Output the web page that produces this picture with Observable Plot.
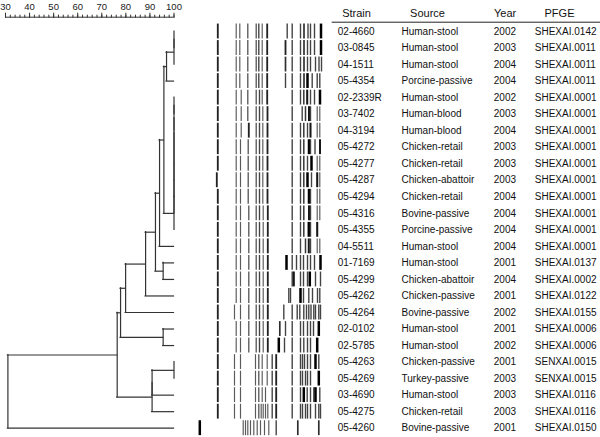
<!DOCTYPE html>
<html><head><meta charset="utf-8">
<script src="https://cdn.jsdelivr.net/npm/d3@7"></script>
<script src="https://cdn.jsdelivr.net/npm/@observablehq/plot@0.6"></script>
<style>
html,body{margin:0;padding:0;background:#fff;}
#chart{position:relative;width:600px;height:437px;overflow:hidden;background:#fff;}
#chart svg{position:absolute;top:0;}
</style></head><body><div id="chart"></div>
<script>
// ---- table data ----
const strains = ["02-4660","03-0845","04-1511","05-4354","02-2339R","03-7402","04-3194","05-4272","05-4277","05-4287","05-4294","05-4316","05-4355","04-5511","01-7169","05-4299","05-4262","05-4264","02-0102","02-5785","05-4263","05-4269","03-4690","05-4275","05-4260"];
const sources = ["Human-stool","Human-stool","Human-stool","Porcine-passive","Human-stool","Human-blood","Human-blood","Chicken-retail","Chicken-retail","Chicken-abattoir","Chicken-retail","Bovine-passive","Porcine-passive","Human-stool","Human-stool","Chicken-abattoir","Chicken-passive","Bovine-passive","Human-stool","Human-stool","Chicken-passive","Turkey-passive","Human-stool","Chicken-retail","Bovine-passive"];
const years = [2002,2003,2004,2004,2002,2003,2004,2003,2003,2003,2004,2004,2004,2004,2001,2004,2001,2002,2001,2002,2001,2003,2003,2003,2001];
const pfgeTypes = ["SHEXAI.0142","SHEXAI.0011","SHEXAI.0011","SHEXAI.0011","SHEXAI.0001","SHEXAI.0001","SHEXAI.0001","SHEXAI.0001","SHEXAI.0001","SHEXAI.0001","SHEXAI.0001","SHEXAI.0001","SHEXAI.0001","SHEXAI.0001","SHEXAI.0137","SHEXAI.0002","SHEXAI.0122","SHEXAI.0155","SHEXAI.0006","SHEXAI.0006","SENXAI.0015","SENXAI.0015","SHEXAI.0116","SHEXAI.0116","SHEXAI.0150"];
const headers = ["Strain","Source","Year","PFGE"];

// ---- dendrogram: merges [childA, childB, % similarity]; leaves = row numbers, "nK" = K-th merge ----
const merges = [
  [1,2,100],["n1",3,100],["n2",4,96.9],
  [5,6,100],["n4",7,100],["n5",8,100],["n6",9,100],["n7",10,100],["n8",11,100],["n9",12,100],["n10",13,100],
  ["n3","n11",95.8],["n12",14,94.0],[15,16,95.5],["n13","n14",92.3],["n15",17,88.2],["n16",18,79.9],
  [19,20,95.5],["n17","n18",77.8],[21,22,100],["n20",23,90.9],["n21",24,90.9],["n19","n22",76.4],["n23",25,31.0]
];
const scaleTicks = [30,40,50,60,70,80,90,100];

// ---- gel lanes: [migration, intensity] per strain row ----
const lanes = [
  [[22.3,.85],[40.7,.6],[44.3,.6],[52.3,.65],[60.7,.65],[63.3,.7],[66.7,.6],[71.7,.85],[91.7,.7],[96.7,.7],[105,.7],[108.5,.8],[112.5,.7],[115,.7],[119,.7],[125.5,1]],
  [[22.3,.85],[40.7,.6],[44.3,.6],[52.3,.65],[60.7,.65],[63.3,.7],[66.7,.6],[71.7,.85],[90,.85],[96.7,.7],[105,.7],[108.5,.8],[112,.7],[115,.7],[119,.7],[125.5,1]],
  [[22.3,.85],[40.7,.6],[44.3,.6],[52.3,.65],[60.7,.65],[63.3,.7],[66.7,.6],[71.7,.85],[90,.8],[96.7,.7],[105,.7],[108.5,.8],[112,.7],[115,.7],[120,.7],[123.5,.7],[126,.7]],
  [[22.3,.85],[40.7,.6],[44.3,.6],[52.3,.65],[60.7,.65],[63.3,.7],[66.7,.6],[71.7,.85],[90,.7],[96.7,.7],[105,.7],[108.5,.8],[112,1],[116.7,.7],[121.7,.7],[124.3,.7]],
  [[22.3,.85],[40.7,.6],[45.7,.6],[52.3,.65],[60.7,.65],[64,.7],[66.7,.6],[71.7,.85],[96.7,.7],[105,.7],[108.3,.75],[111.7,.9],[115,.7],[119,.7],[124.5,1]],
  [[22.3,.85],[40.7,.6],[45.7,.6],[52.3,.65],[60.7,.65],[64,.7],[67.3,.6],[72,.85],[96.7,.7],[106.7,.7],[110,.75],[113.5,.9],[115,.7],[121.7,.6],[124.3,.6]],
  [[22.3,.85],[40.7,.6],[45.7,.6],[53.3,.85],[60.7,.65],[64,.7],[67.3,.6],[72,.85],[96.7,.7],[105,.7],[108.3,.75],[112,.7],[115,.9],[121.7,.6],[124.3,.6]],
  [[22.3,.85],[40.7,.6],[45,.6],[52.7,.65],[60.7,.65],[64,.7],[67.3,.6],[72,.85],[96.7,.7],[105,.7],[108.3,.75],[113.5,1],[115,.7],[119.5,.7],[124.5,.9]],
  [[22.3,.85],[40.7,.6],[45,.6],[52.7,.65],[60.7,.65],[64,.7],[67.3,.6],[72,.85],[96.7,.7],[105,.7],[108.3,.75],[112,.7],[116,1],[121.7,.6],[124.3,.6]],
  [[21.3,.85],[40.7,.6],[45,.6],[52.7,.65],[60.7,.65],[64,.7],[67.3,.6],[72,.85],[96.7,.7],[105,.7],[108.3,.75],[112,1],[116,.7],[121.7,.9],[124.3,.6]],
  [[22.3,.85],[40.7,.6],[45,.6],[52.7,.65],[60.7,.65],[64,.7],[67.3,.6],[72,.85],[96.7,.7],[105,.7],[108.3,.75],[113.5,1],[115,.7],[121.7,.6],[124.3,.6]],
  [[22.3,.85],[40.7,.6],[45,.6],[53.3,.65],[60.7,.65],[64,.7],[67.7,.6],[72.3,.85],[96.7,.7],[105,.7],[108.3,.75],[113.5,.9],[115,.7],[121.7,.6],[124.3,.6]],
  [[22.3,.85],[40.7,.6],[45,.6],[53.3,.65],[60.7,.65],[64,.7],[67.7,.6],[72.3,.85],[96.7,.7],[105,.7],[108.3,.75],[113.3,1],[115,.7],[121.7,.9]],
  [[22.3,.85],[40.7,.6],[45,.6],[53.3,.65],[60.7,.65],[64,.7],[67.7,.6],[72.3,.85],[96.7,.7],[105,.7],[110,.75],[113.3,.9],[115,.7],[121.7,.6],[124.3,.6]],
  [[22.3,.85],[40.7,.6],[45,.6],[53.3,.65],[60.7,.65],[64,.7],[67.7,.6],[72.3,.85],[91,1],[96.7,.7],[101,.7],[105,.7],[108,.7],[112,.7],[115,.7],[119,.7],[125,1]],
  [[22.3,.85],[40.7,.6],[45,.6],[53.3,.65],[60.7,.65],[64,.7],[67.7,.6],[72.3,.85],[96.7,.7],[98.3,.9],[105,.7],[108,.7],[112,.7],[114.3,1],[120,.7],[125,.7]],
  [[22.3,.85],[40.7,.6],[45,.6],[53.3,.65],[60.7,.65],[64,.7],[67.7,.6],[72.3,.85],[93.3,.7],[95,.7],[105,1],[108,.7],[113.3,.7],[117,.7],[122,.7],[124.3,.7]],
  [[22.3,.85],[39,.6],[45,.6],[53.3,.65],[60.7,.65],[64,.7],[67.7,.6],[72.3,.85],[88.3,.7],[96.7,.7],[101.7,.7],[104.3,.7],[108.3,.7],[111,.7],[113.3,.7],[115.5,.7],[118.3,.7],[120,.7],[123.3,.7],[125,.7]],
  [[22.3,.85],[40.7,.6],[45,.6],[53.3,.65],[60.7,.65],[64,.7],[67.7,.6],[72.3,.85],[84.3,.8],[90,.7],[96.7,.7],[105,.7],[108,.7],[112,.7],[115,.7],[118,.7],[123.3,1]],
  [[22.3,.85],[40.7,.6],[45,.6],[53.3,.65],[60.7,.65],[64,.7],[67.7,.6],[72.3,.85],[83.3,1],[89,.7],[96.7,.7],[105,.7],[108.3,.7],[112,.7],[115,.7],[121.7,1]],
  [[22.3,.85],[39,.6],[45,.6],[60,.6],[63.3,.65],[66.7,.6],[71.7,.6],[76.7,.7],[80.7,.85],[96.7,.7],[105,.7],[107,.7],[109,.7],[112,.7],[115,.7],[120,1],[123.3,.7]],
  [[22.3,.85],[39,.6],[45,.6],[60,.6],[63.3,.65],[66.7,.6],[71.7,.6],[76.7,.7],[80.7,.85],[96.7,.7],[105,.7],[107,.7],[110,.7],[112,.7],[115,.7],[123.3,1]],
  [[22.3,.85],[39,.6],[45,.6],[60,.6],[63.3,.65],[66.7,.6],[70,.6],[76.7,.7],[80.7,.85],[96.7,.7],[105,.7],[108.3,1],[111.7,.7],[115,.7],[118.3,.7],[120,1],[124.3,.7]],
  [[22.3,.85],[39,.6],[45,.6],[60,.6],[63.3,.65],[65.7,.6],[67.7,.6],[70,.6],[72.3,.6],[76.7,.7],[80.7,.85],[96.7,.7],[105,.7],[107,.7],[110,.7],[112,.7],[115,.7],[120,.7],[123.3,.7],[125,.7]],
  [[4.3,1],[47.7,.6],[50,.6],[52.3,.6],[55,.6],[58.3,.6],[61.7,.6],[65,.6],[69,.6],[73.3,.6],[80.7,.7],[102.3,.8],[123.3,.8]]
];

// ---- layout helpers ----
const FONT = "'Liberation Sans', Arial, Helvetica, sans-serif";
const H = 437, MT = 31, MB = 9.3;
const chart = document.getElementById("chart");
function place(svg, left) { svg.style.left = left + "px"; chart.appendChild(svg); }
const yScale = {domain: [1, 25], reverse: true, axis: null};

// build dendrogram geometry from merges
const node = {};
for (let r = 1; r <= 25; r++) node[r] = {sim: 100, row: r};
const vSegs = [], hSegs = [];
merges.forEach(([a, b, s], i) => {
  const A = node[a], B = node[b];
  vSegs.push({x: s, y1: A.row, y2: B.row});
  hSegs.push({y: A.row, x1: s, x2: A.sim});
  hSegs.push({y: B.row, x1: s, x2: B.sim});
  node["n" + (i + 1)] = {sim: s, row: (A.row + B.row) / 2};
});

const dendro = Plot.plot({
  width: 190, height: H,
  marginTop: MT, marginBottom: MB, marginLeft: 5, marginRight: 16.5,
  x: {domain: [30, 100], axis: null},
  y: yScale,
  style: {fontFamily: FONT, background: "transparent", color: "#222"},
  marks: [
    Plot.ruleY([1], {x1: 30, x2: 100, dy: -14.3, stroke: "#333", strokeWidth: 1}),
    Plot.axisX({anchor: "top", ticks: d3.range(30, 101, 2), tickSize: 3, tickFormat: () => "", dy: -14.3, stroke: "#333"}),
    Plot.axisX({anchor: "top", ticks: scaleTicks, tickSize: 5, tickPadding: 2, dy: -14.3, fontSize: 9.5, stroke: "#333", fill: "#222"}),
    Plot.ruleX(vSegs, {x: "x", y1: "y1", y2: "y2", stroke: "#333", strokeWidth: 1.2, strokeLinecap: "square"}),
    Plot.ruleY(hSegs.filter(d => d.x1 !== d.x2), {y: "y", x1: "x1", x2: "x2", stroke: "#333", strokeWidth: 1.2, strokeLinecap: "square"})
  ]
});
place(dendro, 0);

// gel
const bands = lanes.flatMap((lane, i) => lane.map(([m, v]) => ({row: i + 1, m, v})));
const gel = Plot.plot({
  width: 140, height: H,
  marginTop: MT, marginBottom: MB, marginLeft: 5, marginRight: 5,
  x: {domain: [0, 130], axis: null},
  y: yScale,
  color: {type: "linear", domain: [0, 1], range: ["#e0e0e0", "#000"]},
  style: {background: "transparent"},
  marks: [
    Plot.ruleX(bands, {x: "m", y1: d => d.row - 0.45, y2: d => d.row + 0.45, stroke: "v",
      strokeWidth: d => 0.8 + 1.7 * d.v * d.v * d.v})
  ]
});
place(gel, 190);

// table
const table = strains.map((s, i) => ({row: i + 1, strain: s, source: sources[i], year: years[i], pfge: pfgeTypes[i]}));
const colLeft = {Strain: 7.3, Source: 71, Year: 163.3, PFGE: 204.3};
const headCenter = {Strain: 26, Source: 97, Year: 174.6, PFGE: 229};
const tbl = Plot.plot({
  width: 270, height: H,
  marginTop: MT, marginBottom: MB, marginLeft: 0, marginRight: 0,
  x: {type: "identity", axis: null},
  y: yScale,
  style: {fontFamily: FONT, background: "transparent", color: "#111"},
  marks: [
    Plot.text(headers, {x: d => headCenter[d], y: () => 1, dy: -17.7, text: d => d, fontSize: 11, textAnchor: "middle", fill: "#111"}),
    Plot.ruleY([1], {x1: 1.7, x2: 270, dy: -9.3, stroke: "#222", strokeWidth: 1}),
    Plot.text(table, {x: () => colLeft.Strain, y: "row", text: "strain", textAnchor: "start", fontSize: 10, fill: "#111"}),
    Plot.text(table, {x: () => colLeft.Source, y: "row", text: "source", textAnchor: "start", fontSize: 10, fill: "#111"}),
    Plot.text(table, {x: () => colLeft.Year, y: "row", text: d => String(d.year), textAnchor: "start", fontSize: 10, fill: "#111"}),
    Plot.text(table, {x: () => colLeft.PFGE, y: "row", text: "pfge", textAnchor: "start", fontSize: 10, fill: "#111"})
  ]
});
place(tbl, 330);
</script>
</body></html>
